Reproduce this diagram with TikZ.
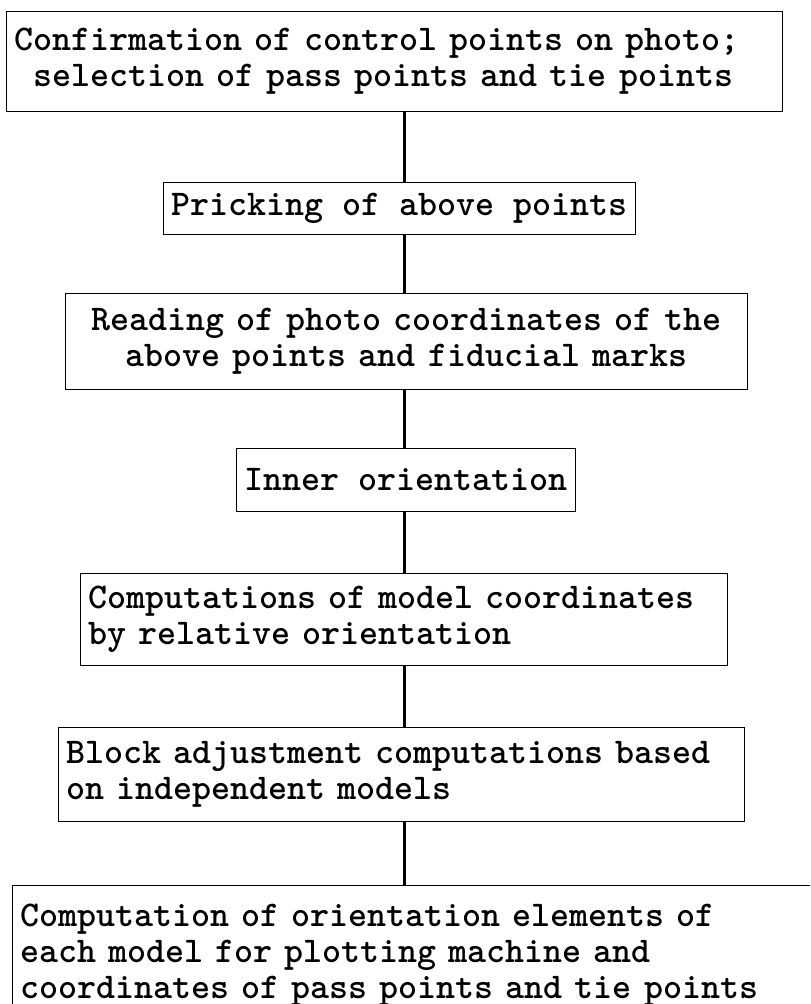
\documentclass[tikz,border=0pt]{standalone}
\usepackage{fontspec}
\usetikzlibrary{positioning}

\begin{document}
\begin{tikzpicture}[x=0.5pt, y=-0.5pt,
          stage/.style = {draw, line width=.5pt, anchor=north west, inner xsep=4pt, inner ysep=0pt,
                          font=\fontsize{18.1}{18}\selectfont\ttfamily\bfseries},
          link/.style = {line width=1.5pt}]
        \clip (0,0) rectangle (810,1004);
        \coordinate (spine) at (404,0);
        \node[stage, minimum width=388pt, minimum height=50pt, text width=380pt, align=left] (confirm) at (6,11)
              {Confirmation of control points on photo;\\\hspace*{0.525em}selection of pass points and tie points};
        \node[stage, minimum width=234.5pt, minimum height=26pt] (prick) at (163,182) {Pricking of above points};
        \node[stage, minimum width=341pt, minimum height=48pt, text width=333pt, align=center] (read) at (65,293)
              {Reading of photo coordinates of the\\above points and fiducial marks};
        \node[stage, minimum width=168pt, minimum height=31.5pt] (inner) at (236,448) {Inner orientation};
        \node[stage, minimum width=323.5pt, minimum height=46pt, text width=315.5pt, align=left] (model) at (80,573)
              {Computations of model coordinates\\by relative orientation};
        \node[stage, minimum width=343pt, minimum height=47pt, text width=335pt, align=left] (block) at (58,727)
              {Block adjustment computations based\\on independent models};
        \node[stage, minimum width=409pt, minimum height=70pt, text width=401pt, align=left] (elem) at (12,885)
              {Computation of orientation elements of\\each model for plotting machine and\\coordinates of pass points and tie points};
        \foreach \a/\b in {confirm/prick, prick/read, read/inner, inner/model, model/block, block/elem}
                 {
                   \draw[link] (\a.south -| spine) -- (\b.north -| spine);
                 }
      \end{tikzpicture}
\end{document}
